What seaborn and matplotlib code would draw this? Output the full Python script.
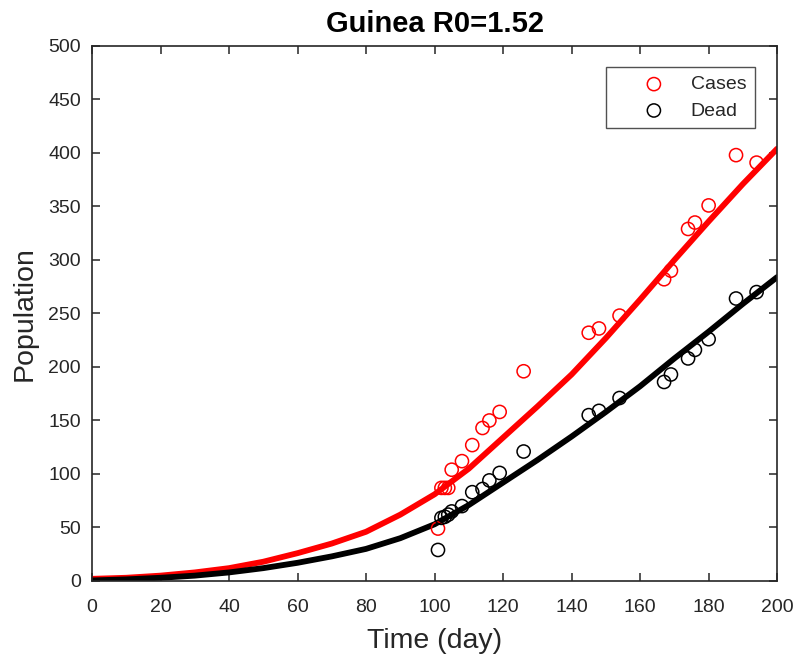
"""Guinea: model curve vs reported cases and deaths (R0=1.52)."""

import matplotlib

matplotlib.use("Agg")
import matplotlib.pyplot as plt
import seaborn as sns

# Model curves.
model_days = [0, 10, 20, 30, 40, 50, 60, 70, 80, 90, 100,
              110, 120, 130, 140, 150, 160, 170, 180, 190, 200]
model_cases = [2, 3, 5, 8, 12, 18, 26, 35, 46, 62, 81,
               105, 134, 163, 193, 227, 263, 300, 336, 371, 404]
model_dead = [0.5, 1.5, 3, 5, 8, 12, 17, 23, 30, 40, 53,
              71, 92, 113, 135, 158, 182, 208, 233, 259, 284]

# Reported data points.
obs_days = [101, 102, 103, 104, 105, 108, 111, 114, 116, 119, 126,
            145, 148, 154, 167, 169, 174, 176, 180, 188, 194]
obs_cases = [49, 87, 87, 87, 104, 112, 127, 143, 150, 158, 196,
             232, 236, 248, 282, 290, 329, 335, 351, 398, 391]
obs_dead = [29, 59, 60, 62, 65, 70, 83, 86, 94, 101, 121,
            155, 159, 171, 186, 193, 208, 216, 226, 264, 270]

x_ticks = list(range(0, 201, 20))
y_ticks = list(range(0, 501, 50))


def main() -> None:
    sns.set_theme(style="ticks")
    plt.rcParams["font.family"] = ["Liberation Sans", "DejaVu Sans"]
    dark = "#262626"

    fig = plt.figure(figsize=(7.93, 6.57), dpi=100)
    ax = fig.add_axes([0.116, 0.1157, 0.864, 0.8143])

    # Model curves (thick lines).
    sns.lineplot(x=model_days, y=model_cases, color="red", linewidth=4.2, ax=ax)
    sns.lineplot(x=model_days, y=model_dead, color="black", linewidth=4.2, ax=ax)

    # Data points as open circles.
    sns.scatterplot(x=obs_days, y=obs_cases, facecolor="none", edgecolor="red",
                    s=90, linewidth=1.1, marker="o", ax=ax, zorder=3)
    sns.scatterplot(x=obs_days, y=obs_dead, facecolor="none", edgecolor="black",
                    s=90, linewidth=1.1, marker="o", ax=ax, zorder=3)

    ax.set_xlim(0, 200)
    ax.set_ylim(0, 500)
    ax.set_xticks(x_ticks)
    ax.set_yticks(y_ticks)
    ax.tick_params(axis="both", direction="in", length=5.5, width=1.1,
                   labelsize=14, colors=dark, top=True, right=True)
    ax.tick_params(axis="x", pad=13)
    ax.tick_params(axis="y", pad=8)
    for spine in ax.spines.values():
        spine.set_visible(True)
        spine.set_color(dark)
        spine.set_linewidth(1.2)

    ax.set_xlabel("Time (day)", fontsize=20.5, color=dark)
    ax.set_ylabel("Population", fontsize=20.5, color=dark)
    ax.xaxis.set_label_coords(0.5, -0.087)
    ax.yaxis.set_label_coords(-0.08, 0.5)
    ax.set_title("Guinea R0=1.52", fontsize=21, fontweight="bold", color="black", pad=10)

    # Legend shows only the circle markers, like the original.
    handles = list(ax.collections[-2:])
    leg = ax.legend(handles=handles, labels=["Cases", "Dead"],
                    loc="upper right", bbox_to_anchor=(0.968, 0.961),
                    fontsize=14, frameon=True, fancybox=False,
                    handletextpad=-0.1, borderpad=0.45, labelspacing=0.45,
                    handlelength=4.0, borderaxespad=0)
    leg.get_frame().set_edgecolor(dark)
    leg.get_frame().set_linewidth(1.0)
    for text in leg.get_texts():
        text.set_color(dark)

    fig.savefig("out.png", dpi=100)
    plt.close(fig)


if __name__ == "__main__":
    main()
